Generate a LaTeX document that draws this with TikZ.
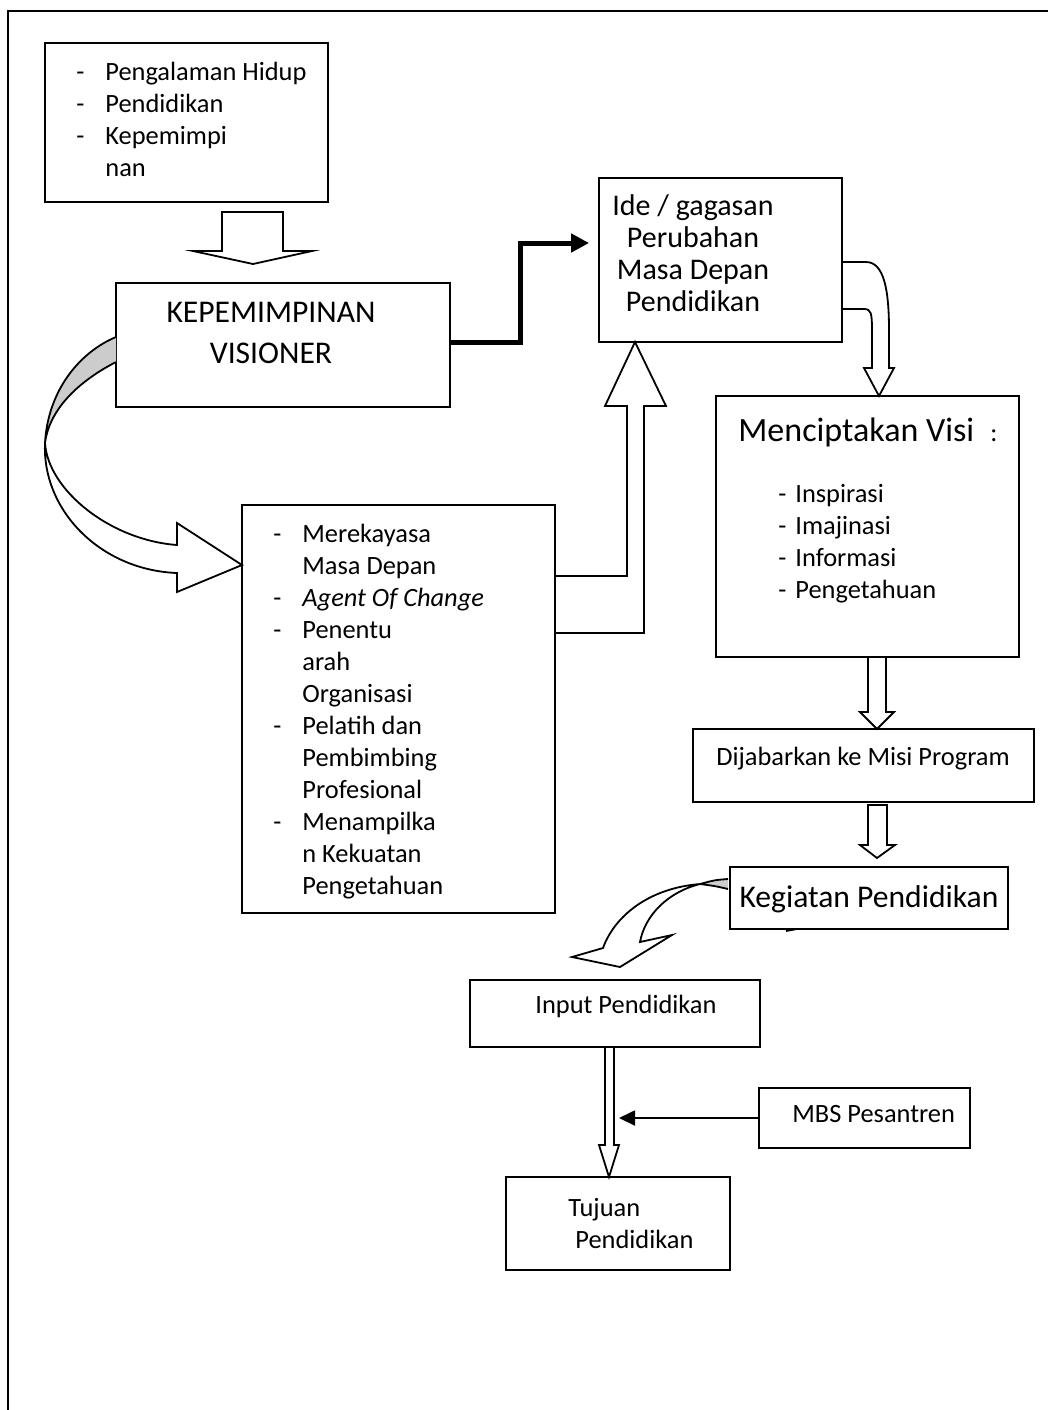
\documentclass[tikz,border=0pt]{standalone}
\usepackage{fontspec}
\setmainfont{Carlito}
\usetikzlibrary{fit,calc,arrows.meta}
\newcommand\smalltxt{\fontsize{13.2pt}{16pt}\selectfont}
\newcommand\midtxt{\fontsize{15pt}{16pt}\selectfont}
\newcommand\bigtxt{\fontsize{15.8pt}{19pt}\selectfont}
\newcommand\hugetxt{\fontsize{17pt}{20pt}\selectfont}
\newcommand\dl[1]{\makebox[14.5pt][l]{-}#1}
\newcommand\cl[1]{\hspace*{14.5pt}#1}
\newcommand\dls[1]{\makebox[8.5pt][l]{-}#1}
\begin{document}
\begin{tikzpicture}[x=0.5pt,y=-0.5pt,
  box/.style={draw, line width=0.9pt, inner sep=0pt},
  txt/.style={inner sep=0pt, anchor=base west, font=\smalltxt},
  blk/.style={draw, line width=0.9pt, line join=miter},
]
\useasboundingbox (0,0) rectangle (1048,1410);
% frame
\draw[line width=1.2pt] (8,1410) -- (8,11) -- (1048,11);
% boxes
\node[box, fit={(45,43) (328,202)}] (b1) {};
\node[box, fit={(116,283) (450,407)}] (b2) {};
\node[box, fit={(599,178) (842,342)}] (b3) {};
\node[box, fit={(716,396) (1019,657)}] (b4) {};
\node[box, fit={(693,729) (1034,802)}] (b5) {};
\node[box, fit={(730,867) (1008,929)}] (b6) {};
\node[box, fit={(242,505) (555,913)}] (b7) {};
\node[box, fit={(470,980) (760,1047)}] (b8) {};
\node[box, fit={(506,1177) (730,1270)}] (b9) {};
\node[box, fit={(759,1088) (970,1148)}] (b10) {};
% texts
\node[txt] (t1) at (76,80) {\begin{tabular}[t]{@{}l@{}}\dl{Pengalaman Hidup}\\\dl{Pendidikan}\\\dl{Kepemimpi}\\\cl{nan}\end{tabular}};
\node[txt, anchor=base, font=\bigtxt] (t2) at (271,322) {\begin{tabular}[t]{@{}c@{}}KEPEMIMPINAN\\[1.5pt]VISIONER\end{tabular}};
\node[txt, anchor=base, font=\midtxt] (t3) at (693,215) {\begin{tabular}[t]{@{}c@{}}Ide / gagasan\\Perubahan\\Masa Depan\\Pendidikan\end{tabular}};
\node[txt, font=\hugetxt] (t4) at (738,441) {Menciptakan Visi\hspace{8pt}{\smalltxt :}};
\node[txt] (t4b) at (778,502) {\begin{tabular}[t]{@{}l@{}}\dls{Inspirasi}\\\dls{Imajinasi}\\\dls{Informasi}\\\dls{Pengetahuan}\end{tabular}};
\node[txt, anchor=base] (t5) at (863,765) {Dijabarkan ke Misi Program};
\node[txt, anchor=base, font=\bigtxt] (t6) at (869,907) {Kegiatan Pendidikan};
\node[txt] (t7) at (273,542) {\begin{tabular}[t]{@{}l@{}}\dl{Merekayasa}\\\cl{Masa Depan}\\\dl{\textit{Agent Of Change}}\\\dl{Penentu}\\\cl{arah}\\\cl{Organisasi}\\\dl{Pelatih dan}\\\cl{Pembimbing}\\\cl{Profesional}\\\dl{Menampilka}\\\cl{n Kekuatan}\\\cl{Pengetahuan}\end{tabular}};
\node[txt, anchor=base] (t8) at (626,1013) {Input Pendidikan};
\node[txt] (t9) at (568,1216) {\begin{tabular}[t]{@{}l@{}}Tujuan\\\hspace*{3.5pt}Pendidikan\end{tabular}};
\node[txt] (t10) at (792,1122) {MBS Pesantren};
% connectors
% b1 -> b2
\draw[blk] (222,212) -- (283,212) -- (283,251) -- (312,251) -- (253,264) -- (193,251) -- (222,251) -- cycle;
% b2 -> b3 thick
\draw[line width=2.5pt, -{Triangle[length=9pt,width=9pt]}] (b2.east |- 0,342) -| (520,243) -- ($(b3.west |- 0,243)+(-9,0)$);
% b3 -> b4 curved block
\draw[blk] (b3.east |- 0,262) -- (866,262) .. controls (884,262) and (889,290) .. (889,330) -- (889,368) -- (894,368) -- (879,396) -- (864,368) -- (872,368) -- (872,330) .. controls (872,313) and (871,309) .. (864,309) -- (b3.east |- 0,309);
% b4 -> b5
\draw[blk] (868,657) -- (868,712) -- (860,712) -- (877,729) -- (894,712) -- (886,712) -- (886,657);
% b5 -> b6
\draw[blk] (868,805) -- (868,845) -- (860,845) -- (877,858) -- (895,845) -- (887,845) -- (887,805) -- cycle;
% b6 -> b8 curved
\fill[black!20] (728,879) .. controls (715,880) .. (700,884) .. controls (715,886) .. (728,889) -- cycle;
\draw[blk] (728,879) .. controls (715,880) .. (700,884) .. controls (650,888) and (615,915) .. (603,948) -- (572,957) -- (620,967) -- (672,935) -- (640,942) .. controls (645,915) and (668,892) .. (700,884) .. controls (715,886) .. (728,889);
\draw[line width=0.9pt] (786,931) -- (797,929);
% b2 -> b7 curved
\fill[black!20] (116,337) .. controls (80,352) and (48,390) .. (45,443) .. controls (50,405) and (85,378) .. (116,362) -- cycle;
\draw[blk] (116,337) .. controls (80,352) and (48,390) .. (45,443) .. controls (42,510) and (100,570) .. (177,573) -- (177,592) -- (242,565) -- (177,523) -- (177,545) .. controls (110,540) and (48,490) .. (45,443) .. controls (50,405) and (85,378) .. (116,362);
% b7 -> b3 block
\draw[blk] (b7.east |- 0,576) -- (627,576) -- (627,406) -- (605,406) -- (635,342) -- (666,406) -- (644,406) -- (644,633) -- (b7.east |- 0,633);
% b8 -> b9
\draw[blk] (605,1047) -- (605,1145) -- (599,1145) -- (609,1177) -- (619,1145) -- (614,1145) -- (614,1047);
% b10 -> shaft
\coordinate (mbsend) at (619,1118);
\draw[line width=0.9pt, -{Triangle[length=8pt,width=7.5pt]}] (b10.west) -- (mbsend);
\end{tikzpicture}
\end{document}
